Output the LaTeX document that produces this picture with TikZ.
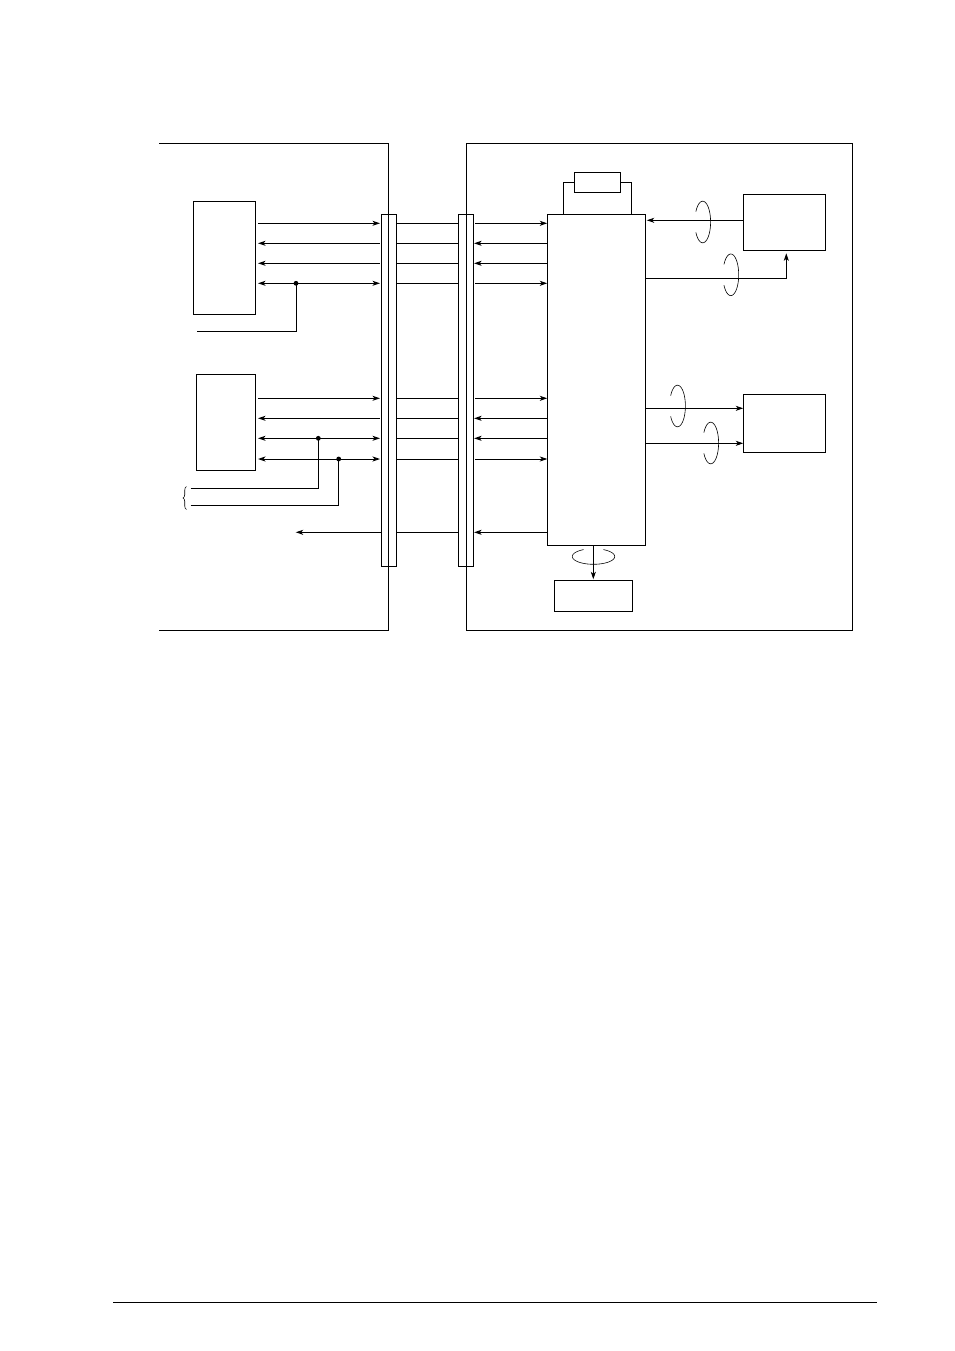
\documentclass[tikz,border=0pt]{standalone}
\usepackage{tikz}
\usetikzlibrary{arrows.meta,decorations.pathreplacing}
\tikzset{
  box/.style={draw,inner sep=0pt,outer sep=0pt},
  toleft/.style={shorten <=2.3pt,shorten >=1.4pt},
  loopline/.style={line width=0.6pt},
}
\begin{document}
\begin{tikzpicture}[x=1pt,y=-1pt,line width=0.95pt,>={Stealth[length=7.5pt,width=5pt,inset=2pt]}]
   \useasboundingbox (0,0) rectangle (954,1351);
   % units
   \node[box,minimum width=62.4pt,minimum height=113.3pt] (ctrlA) at (224.5,257.7) {};
   \node[box,minimum width=59.4pt,minimum height=96pt] (ctrlB) at (226,422.3) {};
   \node[box,minimum width=15.2pt,minimum height=352pt] (busL) at (389,390.3) {};
   \node[box,minimum width=15.4pt,minimum height=352pt] (busR) at (466,390.3) {};
   \node[box,minimum width=98.4pt,minimum height=331pt] (core) at (596.5,379.8) {};
   \node[box,minimum width=46pt,minimum height=20pt] (cap) at (597.3,182.3) {};
   \node[box,minimum width=82.4pt,minimum height=56pt] (devD) at (784.5,222.3) {};
   \node[box,minimum width=82.4pt,minimum height=58pt] (devE) at (784.5,423.3) {};
   \node[box,minimum width=78pt,minimum height=31pt] (devF) at (593.3,595.8) {};
   % panels
   \coordinate (panelLt) at (159,143.3);
   \coordinate (panelLb) at (159,630);
   \coordinate (panelRt) at (852.7,143.3);
   \coordinate (panelRb) at (852.7,630);
   \coordinate (midL) at (388.5,143.3);
   \draw (panelLt) -- (midL) -- (midL |- panelLb) -- (panelLb);
   \draw (busR.north) -- (busR.south);
   \draw (busR.north) -- (panelRt -| busR.north) -- (panelRt) -- (panelRb) -- (panelRb -| busR.south) -- (busR.south);
   % signal levels
   \foreach \n/\y in {a/223.3,b/243.3,c/263.3,d/283.3,e/398.3,f/418.3,g/438.3,h/459,i/532.3}
      \coordinate (lev\n) at (0,\y);
   \foreach \n in {a,b,c,d,e,f,g,h,i}
      \draw (busL.east |- lev\n) -- (busR.west |- lev\n);
   % unit to first bus
   \draw[->,toleft] (ctrlA.east |- leva) -- (busL.west |- leva);
   \draw[<-,toleft] (ctrlA.east |- levb) -- (busL.west |- levb);
   \draw[<-,toleft] (ctrlA.east |- levc) -- (busL.west |- levc);
   \draw[<->,toleft] (ctrlA.east |- levd) -- (busL.west |- levd);
   \draw[->,toleft] (ctrlB.east |- leve) -- (busL.west |- leve);
   \draw[<-,toleft] (ctrlB.east |- levf) -- (busL.west |- levf);
   \draw[<->,toleft] (ctrlB.east |- levg) -- (busL.west |- levg);
   \draw[<->,toleft] (ctrlB.east |- levh) -- (busL.west |- levh);
   \coordinate (tipI) at (295.7,532.3);
   \draw[->] (busL.west |- levi) -- (tipI);
   % second bus to core
   \foreach \n in {a,d,e,h}
      \draw[->,shorten <=1.4pt] (busR.east |- lev\n) -- (core.west |- lev\n);
   \foreach \n in {b,c,f,g,i}
      \draw[<-,shorten <=.4pt] (busR.east |- lev\n) -- (core.west |- lev\n);
   % side lines with dots
   \coordinate (dotA) at (296,283.3);
   \coordinate (dotB) at (318.3,438.3);
   \coordinate (dotC) at (338.7,459);
   \coordinate (inA) at (197,331.3);
   \coordinate (inB) at (190.7,488.3);
   \coordinate (inC) at (190.7,505.3);
   \fill (dotA) circle (2.4pt);
   \fill (dotB) circle (2.4pt);
   \fill (dotC) circle (2.4pt);
   \draw (inA) -- (inA -| dotA) -- (dotA);
   \draw (inB) -- (inB -| dotB) -- (dotB);
   \draw (inC) -- (inC -| dotC) -- (dotC);
   \coordinate (braceT) at (186.5,486.5);
   \coordinate (braceB) at (186.5,509.5);
   \draw[line width=0.6pt,decorate,decoration={brace,amplitude=3.5pt}] (braceB) -- (braceT);
   % cap on the core
   \coordinate (capL) at (563.3,182.3);
   \coordinate (capR) at (631.3,182.3);
   \draw (core.north -| capL) -- (capL) -- (cap.west);
   \draw (core.north -| capR) -- (capR) -- (cap.east);
   % core to devices
   \coordinate (levD) at (0,220.3);
   \coordinate (levK) at (0,278.3);
   \coordinate (levL) at (0,408.3);
   \coordinate (levM) at (0,443.3);
   \coordinate (kneeD) at (786.3,278.3);
   \draw[->,shorten >=1pt] (devD.west |- levD) -- (core.east |- levD);
   \draw[->,shorten >=3pt] (core.east |- levK) -- (kneeD) -- (devD.south -| kneeD);
   \draw[->] (core.east |- levL) -- (devE.west |- levL);
   \draw[->] (core.east |- levM) -- (devE.west |- levM);
   \draw[->,shorten >=1pt] (core.south -| devF.north) -- (devF.north);
   % twist marks
   \foreach \cx/\cy in {702.7/222,730.8/274.8,677.5/406,710.7/443}
      \draw[loopline] plot[smooth,samples=50,domain=-150:150] ({\cx+7.9*cos(\x)},{\cy+20.8*sin(\x)});
   \draw[loopline] plot[smooth,samples=70,domain=-62:242] ({593.5+21.2*cos(\x)},{556.5+7.8*sin(\x)});
   % footer rule
   \coordinate (ruleL) at (113,1302.3);
   \coordinate (ruleR) at (877,1302.3);
   \draw (ruleL) -- (ruleR);
\end{tikzpicture}
\end{document}
